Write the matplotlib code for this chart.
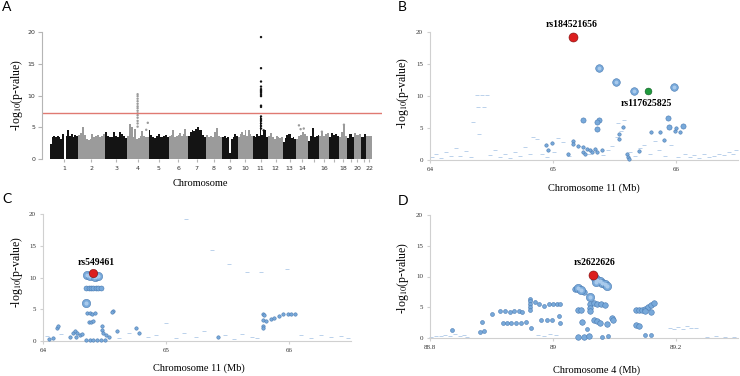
import matplotlib
matplotlib.use('Agg')
import matplotlib.pyplot as plt
import numpy as np

plt.rcParams['font.family'] = ['Liberation Serif', 'DejaVu Serif']
plt.rcParams['mathtext.fontset'] = 'stix'

W, H = 740, 376

# ---------------- panel A: genome wide scan ----------------
chrom_len = [249, 243, 198, 191, 181, 171, 159, 146, 141, 136, 135,
             134, 115, 107, 102, 90, 81, 78, 59, 63, 48, 51]  # Mb
chrom_ticklabels = ['1', '2', '3', '4', '5', '6', '7', '8', '9', '10', '11',
                    '12', '13', '14', '', '16', '', '18', '', '20', '', '22']
# top of the dense band of SNPs along each chromosome (left to right)
band_tops = [
    [2.3, 3.5, 3.6, 3.5, 3.7, 3.4, 3.2, 4.0, 0.0, 3.6, 4.6, 3.7, 3.9, 3.5, 3.8, 3.6],
    [3.8, 4.1, 5.1, 3.8, 3.2, 3.0, 3.1, 3.9, 3.4, 3.6, 3.8, 3.5, 3.7, 3.9],
    [4.3, 3.6, 3.5, 3.4, 4.2, 3.7, 3.4, 4.3, 3.9, 3.6, 3.3],
    [3.6, 5.5, 5.0, 3.5, 4.8, 3.2, 3.3, 3.6, 4.4, 3.7, 3.4, 3.4],
    [4.6, 3.8, 3.5, 3.3, 3.6, 3.9, 3.5, 3.4, 3.6, 3.8, 3.5],
    [3.7, 3.8, 4.5, 3.5, 3.6, 3.8, 4.1, 3.6, 3.9, 4.7, 3.7],
    [3.6, 4.3, 4.5, 4.4, 4.8, 5.0, 4.5, 4.6, 3.8, 3.4],
    [3.8, 3.4, 3.6, 3.5, 4.2, 4.9, 3.7, 3.5],
    [3.5, 3.6, 3.3, 3.4, 1.0, 3.2, 3.5, 3.9, 3.6],
    [3.5, 4.0, 4.3, 3.8, 4.5, 3.7, 4.6, 3.9, 3.6],
    [3.7, 3.5, 4.0, 3.6, 6.6, 3.8, 4.6, 4.5, 3.5],
    [3.6, 4.1, 3.4, 3.2, 3.6, 3.5, 3.3, 3.4],
    [2.7, 3.3, 3.8, 4.0, 3.9, 3.3, 3.4, 3.1],
    [3.1, 3.6, 3.8, 4.3, 4.0, 3.6],
    [2.9, 3.6, 4.9, 3.4, 3.7, 3.8],
    [3.7, 4.3, 3.6, 3.9, 4.1],
    [3.5, 4.1, 3.8, 4.0, 3.6],
    [3.4, 4.3, 5.4, 3.6],
    [3.3, 4.0, 3.5],
    [4.1, 3.8, 4.0],
    [3.5, 4.0],
    [3.7, 3.6],
]
# SNPs standing out above the band (cumulative position in Mb)
a_hit_pos = [783, 783, 783, 783, 783, 783, 783, 783, 783, 783, 783, 783, 783, 783,
             874, 860,
             1886, 1886, 1886, 1886, 1886, 1886, 1886, 1886, 1886, 1886, 1886,
             1886, 1886, 1886, 1886, 1886, 1886, 1886, 1910, 1920,
             2225, 2240, 2268, 2627, 2430]
a_hit_val = [5.1, 5.6, 6.0, 6.5, 6.9, 7.2, 7.6, 8.0, 8.3, 8.7, 9.1, 9.5, 9.9, 10.2,
             5.7, 4.6,
             4.8, 5.2, 5.6, 6.0, 6.3, 6.7, 8.2, 8.4, 9.9, 10.1, 10.4,
             10.6, 10.8, 11.0, 11.4, 12.2, 14.3, 19.2, 4.5, 4.0,
             5.3, 4.7, 4.8, 5.4, 4.3]
genome_wide_line = 7.3

# ---------------- panel B: chr11 region ----------------
b_lead_pos, b_lead_val = [65.16], [19.2]
b_second_pos, b_second_val = [65.77], [10.8]
b_big_pos = [65.37, 65.51, 65.66, 65.98]
b_big_val = [14.3, 12.2, 10.8, 11.4]
b_mid_pos = [65.24, 65.37, 65.36, 65.36, 65.935, 65.94, 66.06]
b_mid_val = [6.3, 6.2, 5.9, 4.8, 6.5, 5.2, 5.3]
b_small_pos = [65.16, 65.16, 65.24, 65.28, 65.30, 65.34, 65.36, 65.24, 64.96, 64.99,
               64.94, 65.60, 65.61, 65.62, 65.80, 65.87, 65.99, 66.00, 65.57, 65.54,
               65.54, 65.20, 65.26, 65.32, 65.40, 65.12, 65.90, 66.03, 65.70]
b_small_val = [3.0, 2.5, 2.0, 1.7, 1.5, 1.7, 1.2, 1.2, 1.5, 2.6,
               2.4, 0.9, 0.4, 0.2, 4.3, 4.3, 4.5, 5.0, 5.1, 4.1,
               3.3, 2.2, 1.0, 1.3, 1.6, 0.9, 3.2, 4.4, 1.4]
b_tiny_pos = [64.02, 64.05, 64.09, 64.13, 64.17, 64.21, 64.24, 64.29, 64.33, 64.35,
              64.38, 64.42, 64.46, 64.39, 64.44, 64.40, 64.49, 64.53, 64.57, 64.61,
              64.65, 64.69, 64.73, 64.77, 64.81, 64.84, 64.87, 64.91, 64.95, 65.01,
              65.04, 65.08, 65.13, 65.21, 65.29, 65.41, 65.45, 65.48, 65.52, 65.53,
              65.55, 65.58, 65.63, 65.67, 65.71, 65.74, 65.79, 65.83, 65.86, 65.91,
              65.96, 66.02, 66.07, 66.11, 66.15, 66.19, 66.23, 66.27, 66.31, 66.35,
              66.39, 66.43, 66.46, 66.49]
b_tiny_val = [0.5, 0.9, 0.3, 1.2, 0.7, 1.8, 0.6, 1.4, 0.4, 6.0,
              10.2, 10.2, 10.1, 8.3, 8.3, 4.0, 0.8, 1.5, 0.5, 1.0,
              0.3, 1.3, 0.6, 2.0, 0.9, 3.6, 3.3, 1.0, 0.4, 1.2,
              3.4, 2.8, 0.6, 2.2, 1.0, 0.8, 1.5, 2.2, 3.6, 5.8,
              4.5, 6.2, 1.2, 0.6, 1.9, 2.4, 1.0, 3.0, 1.6, 0.7,
              2.3, 0.5, 1.0, 0.4, 0.8, 0.3, 0.9, 0.5, 0.6, 1.0,
              0.8, 1.3, 0.9, 1.5]

# ---------------- panel C: chr11 region, conditional ----------------
c_lead_pos, c_lead_val = [64.41], [10.75]
c_big_pos = [64.355, 64.38, 64.42, 64.45, 64.35]
c_big_val = [10.4, 10.3, 10.1, 10.3, 6.0]
c_mid_pos = [64.35, 64.37, 64.39, 64.41, 64.43, 64.45, 64.47]
c_mid_val = [8.4, 8.3, 8.4, 8.3, 8.3, 8.4, 8.3]
c_small_pos = [64.36, 64.38, 64.40, 64.42, 64.37, 64.39, 64.41, 64.57, 64.56, 64.48,
               64.48, 64.49, 64.51, 64.24, 64.26, 64.28, 64.30, 64.32, 64.27, 64.22,
               64.11, 64.12, 64.60, 64.76, 64.78, 64.54, 64.05, 64.08, 64.35, 64.38,
               64.41, 64.44, 64.47, 64.50, 65.79, 65.81, 65.85, 65.88, 65.92, 65.95,
               65.99, 66.02, 66.05, 65.79, 65.80, 65.79, 65.79, 65.42]
c_small_val = [4.4, 4.4, 4.3, 4.4, 3.0, 3.0, 3.1, 4.8, 4.6, 2.4,
               1.7, 1.2, 1.0, 1.2, 1.5, 1.3, 0.9, 1.1, 0.7, 0.6,
               2.0, 2.3, 1.6, 2.0, 1.3, 0.7, 0.3, 0.4, 0.1, 0.1,
               0.1, 0.1, 0.1, 0.1, 3.3, 3.2, 3.4, 3.6, 3.9, 4.2,
               4.3, 4.3, 4.3, 4.3, 4.1, 2.4, 2.0, 0.6]
c_tiny_pos = [65.16, 65.37, 65.51, 65.66, 65.77, 65.98, 64.03, 64.15, 64.62, 64.70,
              64.85, 64.92, 65.00, 65.08, 65.15, 65.24, 65.31, 65.48, 65.55, 65.62,
              65.70, 65.74, 66.10, 66.18, 66.26, 66.34, 66.42, 66.48]
c_tiny_val = [19.2, 14.3, 12.2, 10.8, 10.8, 11.4, 0.8, 1.1, 0.5, 1.2,
              0.6, 1.0, 2.8, 0.4, 1.3, 0.7, 1.5, 0.9, 0.3, 1.1,
              0.6, 0.4, 0.9, 0.5, 1.0, 0.6, 0.8, 0.4]

# ---------------- panel D: chr4 region ----------------
d_lead_pos, d_lead_val = [89.065], [10.2]
d_big_pos = [89.068, 89.072, 89.076, 89.080, 89.084, 89.088, 89.070, 89.040, 89.045, 89.060]
d_big_val = [9.7, 9.5, 9.2, 9.0, 8.8, 8.5, 9.1, 8.1, 7.8, 6.6]
d_mid_pos = [89.050, 89.060, 89.066, 89.072, 89.078, 89.084, 89.040, 89.045, 89.060, 89.060,
             89.047, 89.066, 89.072, 89.076, 89.088, 89.096, 89.098, 89.135, 89.140, 89.135,
             89.140, 89.145, 89.150, 89.155, 89.160, 89.165, 89.160, 89.150, 89.040, 89.050,
             89.058, 89.036]
d_mid_val = [7.5, 5.6, 5.7, 5.6, 5.6, 5.4, 4.5, 4.6, 4.9, 4.4,
             2.6, 3.0, 2.7, 2.5, 2.2, 3.3, 3.0, 2.1, 2.0, 4.6,
             4.6, 4.6, 4.7, 5.0, 5.3, 5.7, 4.3, 4.4, 0.2, 0.2,
             0.3, 8.0]
d_small_pos = [88.914, 88.922, 88.930, 88.937, 88.944, 88.950, 88.900, 88.885, 88.888, 88.882,
               88.918, 88.925, 88.932, 88.940, 88.948, 88.956, 88.963, 88.963, 88.963, 88.963,
               88.963, 88.970, 88.978, 88.985, 88.993, 89.000, 89.007, 89.012, 88.980, 88.990,
               88.998, 89.010, 89.012, 88.965, 89.080, 89.090, 89.150, 89.160, 88.835, 89.055]
d_small_val = [4.4, 4.4, 4.3, 4.4, 4.4, 4.3, 3.9, 2.6, 1.1, 1.0,
               2.4, 2.5, 2.5, 2.4, 2.5, 2.6, 6.4, 6.0, 5.5, 5.0,
               4.6, 5.9, 5.6, 5.2, 5.6, 5.6, 5.6, 5.5, 2.9, 2.9,
               3.0, 3.5, 2.4, 1.6, 0.1, 0.3, 0.5, 0.5, 1.3, 1.5]
d_tiny_pos = [88.802, 88.810, 88.818, 88.825, 88.832, 88.840, 88.848, 88.855, 88.860, 88.975,
              88.985, 88.995, 89.005, 89.190, 89.197, 89.204, 89.211, 89.218, 89.225, 89.232,
              89.250, 89.265, 89.280, 89.295]
d_tiny_val = [0.2, 0.4, 0.3, 0.5, 0.4, 0.6, 0.3, 0.5, 0.2, 0.5,
              0.4, 0.6, 0.5, 1.6, 1.4, 1.8, 1.5, 1.9, 1.6, 1.7,
              0.2, 0.3, 0.1, 0.2]

# ---------------- styling ----------------
BLUE = '#78a9da'
BLUE_EDGE = '#4a7bb2'
SHINE = '#a9caec'
TINY = '#9bbde2'
RED = '#dc1f1f'
GREEN = '#1f9a3c'
AXIS_GREY = '#d0d0d0'
TEXT = '#333333'

fig = plt.figure(figsize=(W / 100, H / 100), dpi=100)


def px_axes(left, right, y0, y20):
    # axes rectangle from pixel coordinates of the reference
    return fig.add_axes([left / W, (H - y0) / H, (right - left) / W, (y0 - y20) / H])


def fig_text(x, y, s, **kw):
    fig.text(x / W, 1 - y / H, s, **kw)


# ---- A ----
axA = px_axes(42, 382, 159, 32)
starts = np.concatenate([[0], np.cumsum(chrom_len)[:-1]])
mb_per_px = sum(chrom_len) / 322.0
axA.set_xlim(-8 * mb_per_px, sum(chrom_len) + 10 * mb_per_px)
axA.set_ylim(0, 20)
for i, (s, L, tops) in enumerate(zip(starts, chrom_len, band_tops)):
    col = '#141414' if i % 2 == 0 else '#9b9b9b'
    w = L / len(tops)
    axA.bar(s + w * np.arange(len(tops)), tops, width=w, align='edge', color=col, linewidth=0)
hit_chrom = np.searchsorted(np.cumsum(chrom_len), a_hit_pos, side='right')
hit_col = ['#141414' if c % 2 == 0 else '#9b9b9b' for c in hit_chrom]
axA.scatter(a_hit_pos, a_hit_val, s=3, c=hit_col, linewidths=0)
axA.axhline(genome_wide_line, color='#e07a72', lw=1.0)
for sp in ['top', 'right', 'bottom']:
    axA.spines[sp].set_visible(False)
axA.spines['left'].set_color('#b5b5b5')
axA.set_yticks([0, 5, 10, 15, 20])
axA.set_xticks(starts + np.array(chrom_len) / 2)
axA.set_xticklabels(chrom_ticklabels)
axA.tick_params(axis='y', length=3, color='#b5b5b5', labelsize=4.5, pad=2, labelcolor=TEXT)
axA.tick_params(axis='x', length=2, color='#b5b5b5', labelsize=4.5, pad=3, labelcolor=TEXT)
for lab in axA.get_xticklabels() + axA.get_yticklabels():
    lab.set_family('DejaVu Sans')


# ---- B, C, D ----
def region(ax, xlim, xticks, xticklabels):
    ax.set_xlim(xlim)
    ax.set_ylim(0, 20)
    for sp in ['top', 'right']:
        ax.spines[sp].set_visible(False)
    for sp in ['left', 'bottom']:
        ax.spines[sp].set_color(AXIS_GREY)
        ax.spines[sp].set_linewidth(0.8)
    ax.set_yticks([0, 5, 10, 15, 20])
    ax.set_xticks(xticks)
    ax.set_xticklabels(xticklabels)
    ax.tick_params(length=2, color=AXIS_GREY, labelsize=5, pad=3, labelcolor=TEXT)


def bubbles(ax, groups):
    for pos, val, size, kind in groups:
        if kind == 'tiny':
            ax.scatter(pos, val, s=size, marker='_', color=TINY, linewidths=0.6,
                       alpha=0.8, clip_on=False, zorder=2)
        else:
            ax.scatter(pos, val, s=size, color=BLUE, edgecolors=BLUE_EDGE,
                       linewidths=0.4, clip_on=False, zorder=3)
            if kind == 'b':
                # soft highlight so the big ones read as spheres
                ax.scatter(pos, val, s=size * 0.25, color=SHINE, linewidths=0,
                           clip_on=False, zorder=3)


def lead(ax, pos, val, color, size):
    ax.scatter(pos, val, s=size, color=color, edgecolors='#7a0d0d' if color == RED else '#0d5a22',
               linewidths=0.4, clip_on=False, zorder=5)


axB = px_axes(430, 737.5, 160, 32)
region(axB, (64, 66.5), [64, 65, 66], ['64', '65', '66'])
bubbles(axB, [(b_tiny_pos, b_tiny_val, 6, 'tiny'), (b_small_pos, b_small_val, 6, 's'),
              (b_mid_pos, b_mid_val, 14, 'm'), (b_big_pos, b_big_val, 30, 'b')])
lead(axB, b_lead_pos, b_lead_val, RED, 42)
lead(axB, b_second_pos, b_second_val, GREEN, 24)
axB.text(65.155, 21.1, 'rs184521656', ha='center', va='center', fontsize=7,
         fontweight='bold', clip_on=False)
axB.text(65.76, 8.8, 'rs117625825', ha='center', va='center', fontsize=7,
         fontweight='bold', clip_on=False)

axC = px_axes(43, 350.5, 341, 214)
region(axC, (64, 66.5), [64, 65, 66], ['64', '65', '66'])
bubbles(axC, [(c_tiny_pos, c_tiny_val, 6, 'tiny'), (c_small_pos, c_small_val, 6, 's'),
              (c_mid_pos, c_mid_val, 13, 'm'), (c_big_pos, c_big_val, 36, 'b')])
lead(axC, c_lead_pos, c_lead_val, RED, 36)
axC.text(64.435, 12.3, 'rs549461', ha='center', va='center', fontsize=7,
         fontweight='bold', clip_on=False)

axD = px_axes(430, 737.5, 338, 215)
region(axD, (88.8, 89.3), [88.8, 89.0, 89.2], ['88.8', '89', '89.2'])
bubbles(axD, [(d_tiny_pos, d_tiny_val, 6, 'tiny'), (d_small_pos, d_small_val, 8, 's'),
              (d_mid_pos, d_mid_val, 16, 'm'), (d_big_pos, d_big_val, 36, 'b')])
lead(axD, d_lead_pos, d_lead_val, RED, 42)
axD.text(89.067, 12.2, 'rs2622626', ha='center', va='center', fontsize=7,
         fontweight='bold', clip_on=False)

# ---- labels ----
ylab = r'-log$_{10}$(p-value)'
for x, y in [(17, 95), (403, 93), (17, 272), (403, 278)]:
    fig_text(x, y, ylab, rotation=90, ha='center', va='center', fontsize=8.5)
for x, y, s in [(200, 183, 'Chromosome'), (594, 188, 'Chromosome 11 (Mb)'),
                (199, 368, 'Chromosome 11 (Mb)'), (597, 370, 'Chromosome 4 (Mb)')]:
    fig_text(x, y, s, ha='center', va='center', fontsize=7.5)
for x, y, s in [(2, 7, 'A'), (398, 7, 'B'), (2, 199, 'C'), (398, 201, 'D')]:
    fig_text(x, y, s, ha='left', va='center', fontsize=10, family='Lato')

fig.savefig('out.png', dpi=100)
